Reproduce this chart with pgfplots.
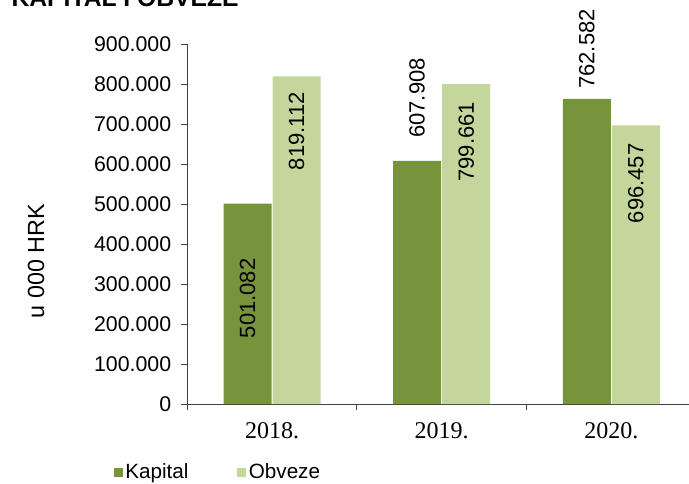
\documentclass[border=0pt]{standalone}
\usepackage{fontspec}
\setmainfont{Liberation Sans}
\newfontfamily\timesfont{Liberation Serif}
\usepackage{pgfplots}
\pgfplotsset{compat=1.18}
\definecolor{kap}{HTML}{77933C}
\definecolor{obv}{HTML}{C3D69B}
\definecolor{axgray}{HTML}{404040}
\begin{document}
\begin{tikzpicture}
\path[use as bounding box] (0,0) rectangle (516.75pt,362.25pt);
\clip (0,0) rectangle (516.75pt,362.25pt);
\begin{axis}[
  at={(140.4pt,59.25pt)}, anchor=south west,
  scale only axis, width=376.5pt, height=270pt,
  clip=false,
  xmin=-0.5, xmax=2.459, ymin=0, ymax=900000,
  axis x line=bottom, axis y line=left,
  axis line style={-, axgray, line width=0.6pt},
  xtick={0,1,2}, xticklabels={2018.,2019.,2020.},
  major x tick style={draw=none},
  minor xtick={-0.5,0.5,1.5,2.5},
  minor x tick style={axgray, line width=0.6pt},
  minor tick length=4.5pt,
  xticklabel style={font=\timesfont\fontsize{18}{20}\selectfont, yshift=-6pt},
  ytick={0,100000,...,900000},
  yticklabels={0,100.000,200.000,300.000,400.000,500.000,600.000,700.000,800.000,900.000},
  ytick style={axgray, line width=0.6pt},
  tick align=outside, major tick length=4.5pt,
  yticklabel style={font=\fontsize{16}{18}\selectfont, xshift=-4pt},
  scaled y ticks=false,
  ybar, bar width=0.283,
  legend columns=2,
  legend style={draw=none, fill=none, at={(-0.155,-0.19)}, anchor=west,
    font=\fontsize{15.5}{18}\selectfont,
    /tikz/every even column/.append style={column sep=34.5pt}},
  legend image code/.code={\fill[#1] (0pt,-3.4pt) rectangle (6.75pt,3.4pt);},
]
\addplot[fill=kap, draw=none, bar shift=-0.1445] coordinates {(0,501082) (1,607908) (2,762582)};
\addplot[fill=obv, draw=none, bar shift=0.1445] coordinates {(0,819112) (1,799661) (2,696457)};
\legend{Kapital, Obveze}
\begin{scope}[every node/.style={rotate=90, inner sep=0pt, font=\fontsize{16.5}{18}\selectfont}]
\node[anchor=center] at (axis cs:-0.1445,264000) {501.082};
\node[anchor=east] at (axis cs:0.1445,780000) {819.112};
\node[anchor=west] at (axis cs:0.8555,665000) {607.908};
\node[anchor=east] at (axis cs:1.1445,755750) {799.661};
\node[anchor=west] at (axis cs:1.8555,787500) {762.582};
\node[anchor=east] at (axis cs:2.1445,651750) {696.457};
\end{scope}
\end{axis}
\node[rotate=90, font=\fontsize{17.5}{18}\selectfont] at (27pt,166.5pt) {u 000 HRK};
\node[anchor=base west, inner sep=0pt, font=\bfseries\fontsize{18.5}{20}\selectfont] at (8.5pt,357pt) {KAPITAL I OBVEZE};
\end{tikzpicture}
\end{document}
